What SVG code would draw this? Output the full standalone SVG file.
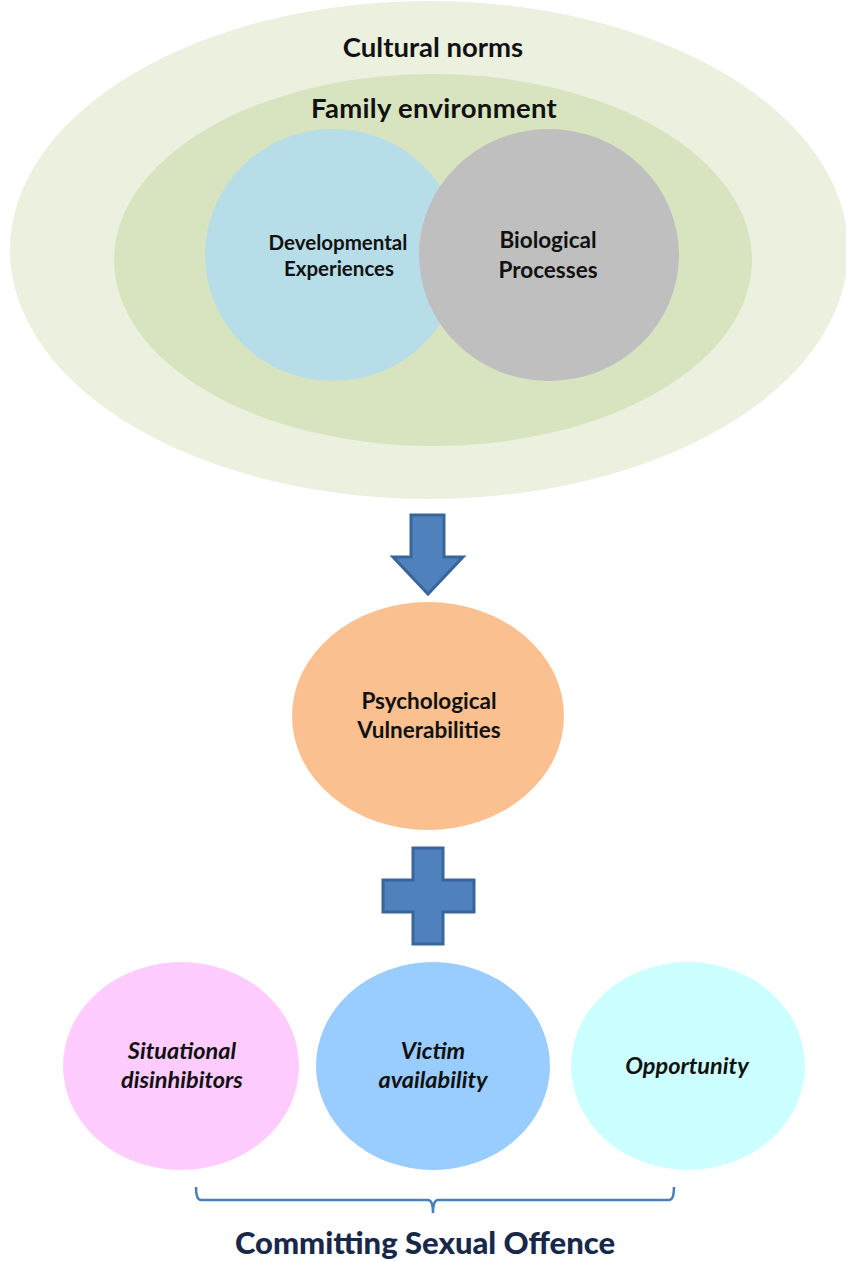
<svg xmlns="http://www.w3.org/2000/svg" width="846" height="1261" viewBox="0 0 846 1261">
<style>
text{font-family:Lato,"Open Sans","Liberation Sans",sans-serif;font-weight:bold;fill:#111;text-anchor:middle}
.it{font-style:italic;font-size:23.5px}
.big{font-size:27.5px}
.mid{font-size:22.5px}
.sm{font-size:20.5px}
.shape{fill:#4f81bd;stroke:#3a659a;stroke-width:3;stroke-linejoin:miter}
</style>
<rect width="846" height="1261" fill="#fff"/>
<g id="cultural-norms">
<ellipse cx="429" cy="250" rx="419" ry="249" fill="#ebf0df"/>
<text class="big" x="433" y="57">Cultural norms</text>
</g>
<g id="family-environment">
<ellipse cx="433" cy="260" rx="319" ry="186" fill="#d8e4bf"/>
<text class="big" x="434" y="118" style="letter-spacing:0.3px">Family environment</text>
</g>
<g id="developmental-experiences">
<ellipse cx="333" cy="255" rx="128" ry="126" fill="#b6dde8"/>
<text class="sm" x="338" y="250">Developmental</text>
<text class="sm" x="339" y="276">Experiences</text>
</g>
<g id="biological-processes">
<ellipse cx="549" cy="255" rx="130" ry="126" fill="#bfbfbf"/>
<text class="mid" x="548" y="248">Biological</text>
<text class="mid" x="548" y="278">Processes</text>
</g>
<g id="connectors">
<path class="shape" d="M411,515 H444 V557 H463 L428,594 L393,557 H411 Z"/>
<path class="shape" d="M413,848 H443 V880 H474 V912 H443 V944 H413 V912 H383 V880 H413 Z"/>
<path d="M196,1187 Q196,1200 201,1200 L428,1200 Q433,1200 433,1213 Q433,1200 438,1200 L669,1200 Q674,1200 674,1187" fill="none" stroke="#4a7ebb" stroke-width="2.5"/>
</g>
<g id="psychological-vulnerabilities">
<ellipse cx="428" cy="716" rx="136" ry="114" fill="#fac090"/>
<text class="mid" x="429" y="709">Psychological</text>
<text class="mid" x="429" y="738">Vulnerabilities</text>
</g>
<g id="situational-disinhibitors">
<ellipse cx="181" cy="1066" rx="118" ry="104" fill="#ffccff"/>
<text class="it" x="182" y="1059">Situational</text>
<text class="it" x="182" y="1088">disinhibitors</text>
</g>
<g id="victim-availability">
<ellipse cx="433" cy="1066" rx="117" ry="104" fill="#99ccff"/>
<text class="it" x="433" y="1059">Victim</text>
<text class="it" x="433" y="1088">availability</text>
</g>
<g id="opportunity">
<ellipse cx="688" cy="1066" rx="117" ry="104" fill="#ccffff"/>
<text class="it" x="687" y="1074">Opportunity</text>
</g>
<g id="committing-sexual-offence">
<text x="425" y="1254" style="font-size:31px;font-weight:900;fill:#17284a">Committing Sexual Offence</text>
</g>
</svg>
